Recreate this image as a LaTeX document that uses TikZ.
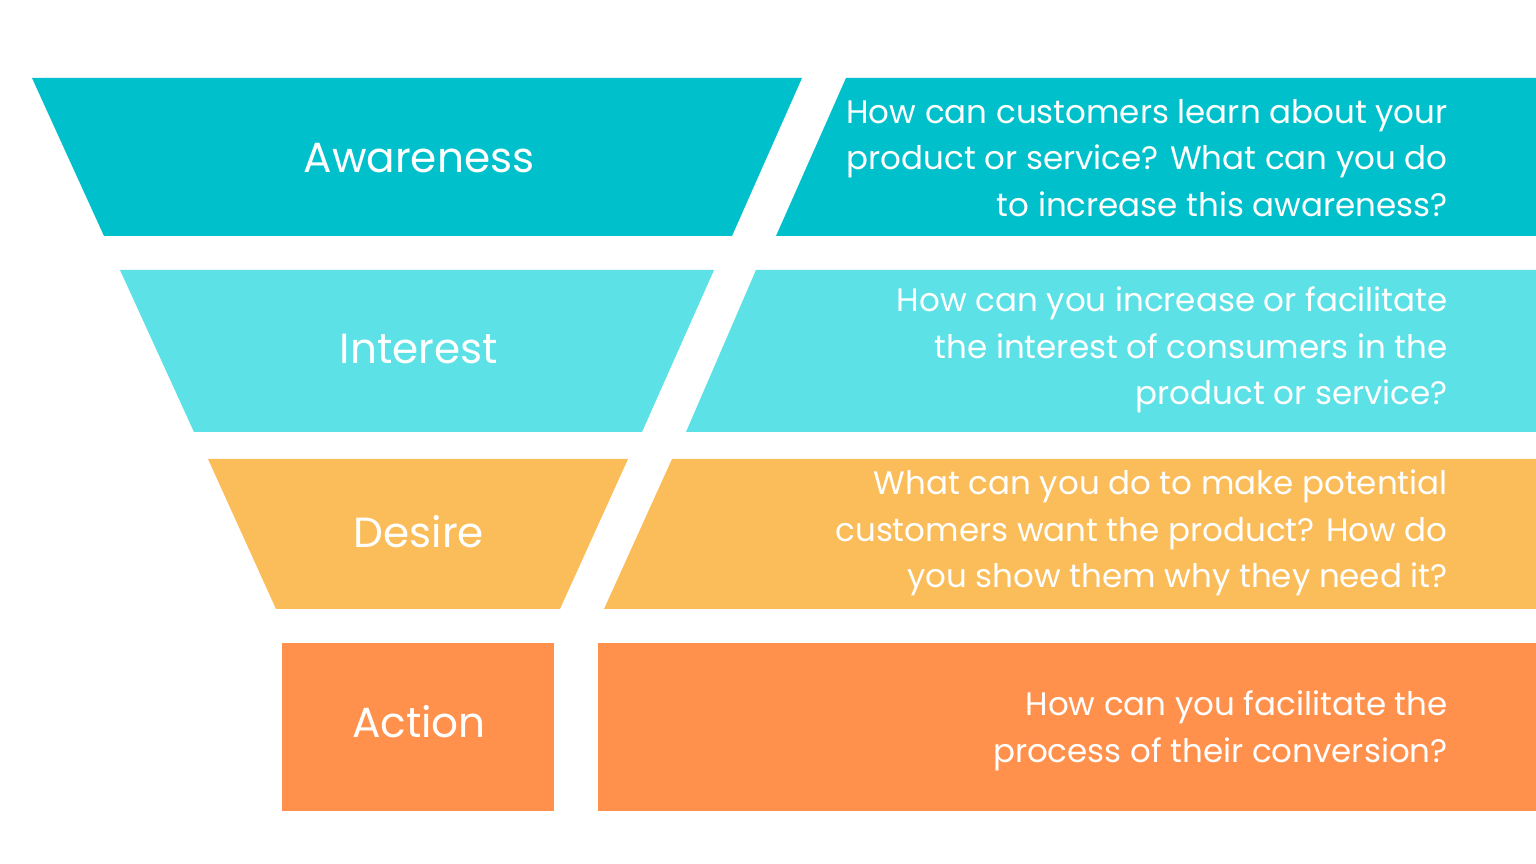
\documentclass[tikz,border=0pt]{standalone}
\usepackage{fontspec}
\setmainfont{Poppins}
\definecolor{awarecol}{HTML}{00C1CB}
\definecolor{interestcol}{HTML}{5CE1E6}
\definecolor{desirecol}{HTML}{FBBD5A}
\definecolor{actioncol}{HTML}{FF914D}
\begin{document}
\begin{tikzpicture}[
    x=0.02cm, y=-0.02cm,
    stage/.style={font=\fontsize{24}{28}\selectfont, text=white, inner sep=0pt},
    question/.style={font=\fontsize{18.5}{26.6}\selectfont, text=white, align=right, anchor=east, inner sep=0pt}
]
\useasboundingbox (0,0) rectangle (1536,864);

% Awareness
\fill[awarecol] (32,78) -- (802,78) -- (732,236) -- (104,236) -- cycle;
\fill[awarecol] (846,78) -- (1536,78) -- (1536,236) -- (776,236) -- cycle;
\node[stage] (aware) at (419,158) {Awareness};
\node[question] (awareq) at (1448,158) {How can customers learn about your\\product or service? What can you do\\to increase this awareness?};

% Interest
\fill[interestcol] (120,270) -- (714,270) -- (642,432) -- (194,432) -- cycle;
\fill[interestcol] (756,270) -- (1536,270) -- (1536,432) -- (686,432) -- cycle;
\node[stage] (interest) at (419,349) {Interest};
\node[question] (interestq) at (1448,350) {How can you increase or facilitate\\the interest of consumers in the\\product or service?};

% Desire
\fill[desirecol] (208,459) -- (628,459) -- (560,609) -- (276,609) -- cycle;
\fill[desirecol] (672,459) -- (1536,459) -- (1536,609) -- (604,609) -- cycle;
\node[stage] (desire) at (419,532) {Desire};
\node[question] (desireq) at (1448,533) {What can you do to make potential\\customers want the product? How do\\you show them why they need it?};

% Action
\fill[actioncol] (282,643) rectangle (554,811);
\fill[actioncol] (598,643) rectangle (1536,811);
\node[stage] (action) at (419,722) {Action};
\node[question] (actionq) at (1448,731) {How can you facilitate the\\process of their conversion?};
\end{tikzpicture}
\end{document}
